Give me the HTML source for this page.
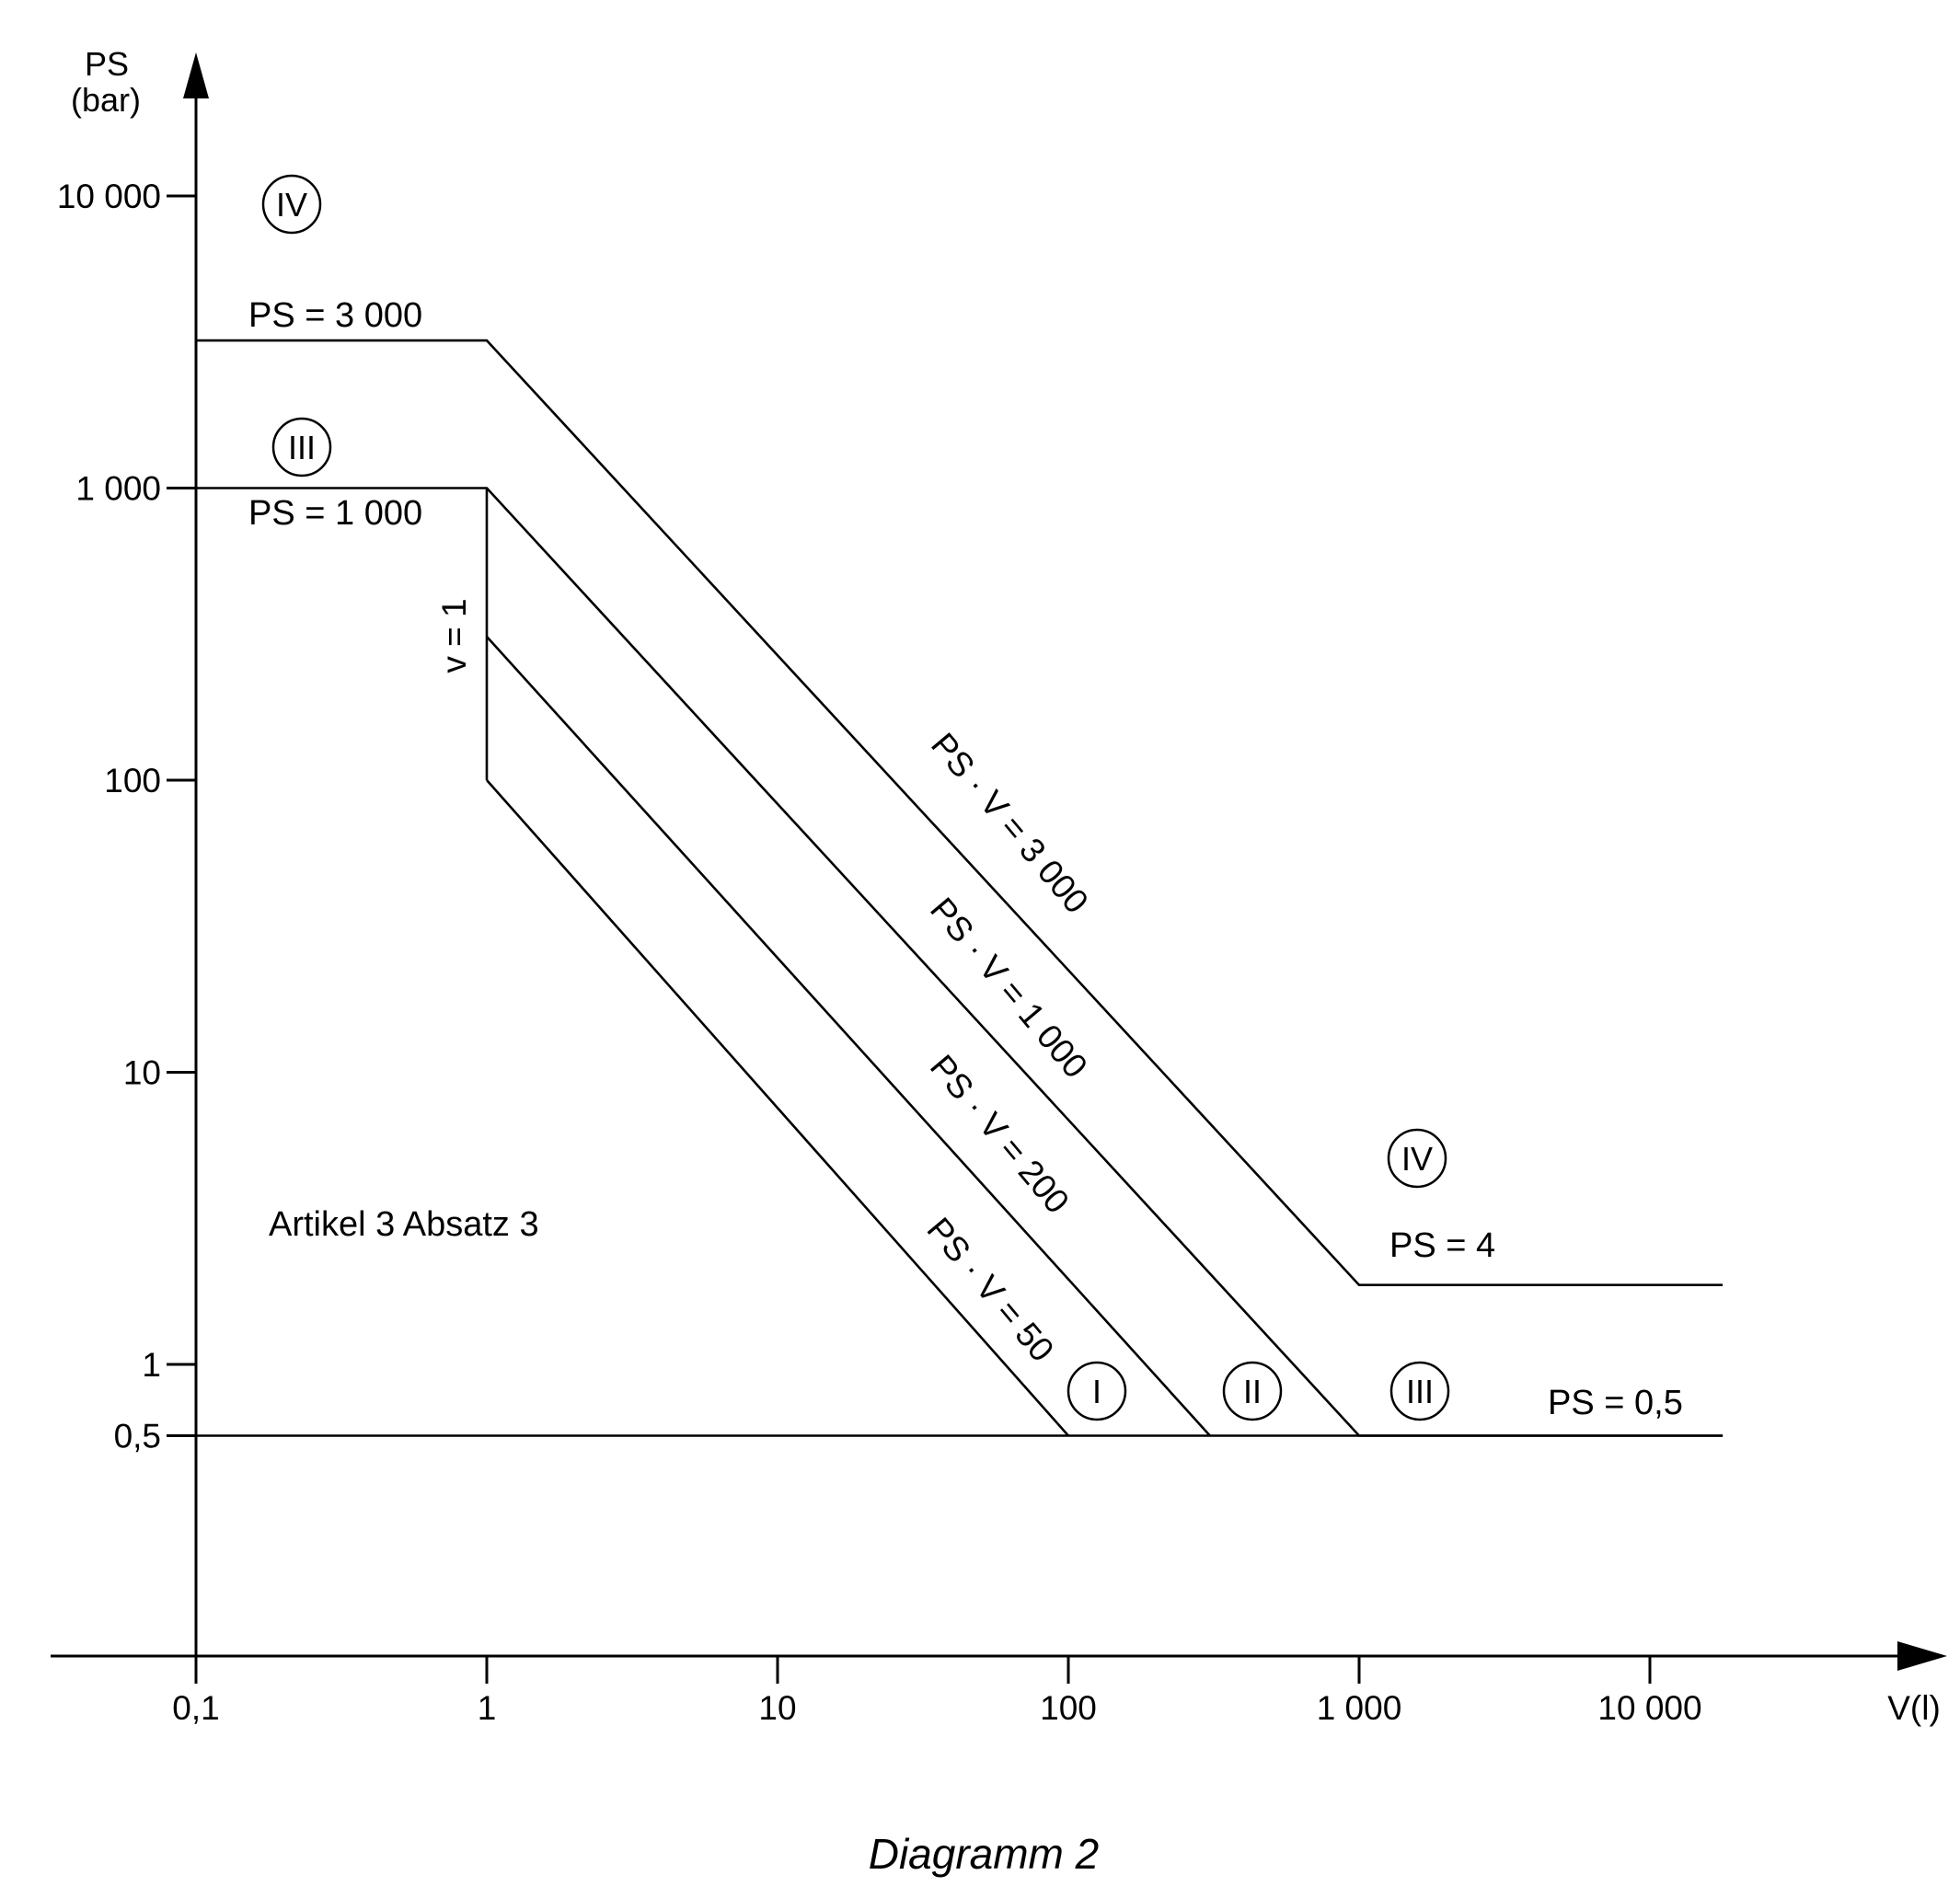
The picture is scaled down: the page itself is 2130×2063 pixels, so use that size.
<!DOCTYPE html>
<html><head><meta charset="utf-8"><style>
html,body{margin:0;padding:0;background:#fff;}
svg{display:block;}
text{font-family:"Liberation Sans",sans-serif;fill:#000;}
</style></head><body>
<svg id="chart" width="2130" height="2063" viewBox="0 0 2130 2063" xmlns="http://www.w3.org/2000/svg"></svg>
<script>
const xTicks = [0.1, 1, 10, 100, 1000, 10000];
const xTickLabels = ["0,1", "1", "10", "100", "1 000", "10 000"];
const yTicks = [10000, 1000, 100, 10, 1, 0.57];
const yTickLabels = ["10 000", "1 000", "100", "10", "1", "0,5"];
// boundary lines as [V, PS] points
const lineIV_V = [0.1, 1, 1000, 17800];
const lineIV_PS = [3200, 3200, 1.87, 1.87];
const lineIII_V = [0.1, 1, 1000, 17800];
const lineIII_PS = [1000, 1000, 0.57, 0.57];
const lineV1_V = [1, 1];
const lineV1_PS = [1000, 100];
const lineII_V = [1, 307];
const lineII_PS = [310, 0.57];
const lineI_V = [1, 100];
const lineI_PS = [100, 0.57];
const lineBase_V = [0.1, 17800];
const lineBase_PS = [0.57, 0.57];

const X0 = 213, XD = 316, Y0 = 213, YD = 317.5, XAXIS_Y = 1800;
function xs(v){ return X0 + (Math.log10(v) + 1) * XD; }
function ys(p){ return Y0 + (4 - Math.log10(p)) * YD; }

const svg = document.getElementById('chart');
const NS = 'http://www.w3.org/2000/svg';
function mk(tag, attrs, parent){
  const e = document.createElementNS(NS, tag);
  for (const k in attrs) e.setAttribute(k, attrs[k]);
  (parent || svg).appendChild(e);
  return e;
}
function txt(x, y, s, size, anchor, extra){
  const t = mk('text', Object.assign({x:x, y:y, 'font-size':size, 'text-anchor':anchor||'start'}, extra||{}));
  t.textContent = s;
  return t;
}

// axes
const xAxis = mk('line', {x1:55, y1:XAXIS_Y, x2:2070, y2:XAXIS_Y, stroke:'#000', 'stroke-width':3});


const xArrow = mk('polygon', {points:'2116,'+XAXIS_Y+' 2062,'+(XAXIS_Y-16)+' 2062,'+(XAXIS_Y+16), fill:'#000'});


const yAxis = mk('line', {x1:X0, y1:XAXIS_Y+30, x2:X0, y2:100, stroke:'#000', 'stroke-width':3});


const yArrow = mk('polygon', {points:X0+',57 '+(X0-14)+',107 '+(X0+14)+',107', fill:'#000'});



xTicks.forEach((v, i) => {
  const x = xs(v);
  const tk = mk('line', {x1:x, y1:XAXIS_Y, x2:x, y2:XAXIS_Y+30, stroke:'#000', 'stroke-width':3});
  
  
  const lb = txt(x, 1869, xTickLabels[i], 37, 'middle');
  
  
});
yTicks.forEach((v, i) => {
  const y = ys(v);
  const tk = mk('line', {x1:181, y1:y, x2:X0, y2:y, stroke:'#000', 'stroke-width':3});
  
  
  const lb = txt(175, y + 13, yTickLabels[i], 37, 'end');
  
  
});

function poly(V, P, name){
  const pts = V.map((v, i) => xs(v).toFixed(1) + ',' + ys(P[i]).toFixed(1)).join(' ');
  const p = mk('polyline', {points:pts, fill:'none', stroke:'#000', 'stroke-width':2.6, 'stroke-linejoin':'miter'});
  
  
}
poly(lineIV_V, lineIV_PS, 'boundary-ps-v-3000');
poly(lineIII_V, lineIII_PS, 'boundary-ps-v-1000');
poly(lineV1_V, lineV1_PS, 'boundary-v-1');
poly(lineII_V, lineII_PS, 'boundary-ps-v-200');
poly(lineI_V, lineI_PS, 'boundary-ps-v-50');
poly(lineBase_V, lineBase_PS, 'boundary-ps-0-5');

// axis titles
let t;
t = txt(116, 82, 'PS', 36, 'middle');  
t = txt(115, 121, '(bar)', 36, 'middle');  
t = txt(2080, 1869, 'V(l)', 37, 'middle');  

// labels
t = txt(270, 355, 'PS = 3 000', 38);  
t = txt(270, 570, 'PS = 1 000', 38);  
t = txt(1510, 1366, 'PS = 4', 38);  
t = txt(1682, 1537, 'PS = 0,5', 38);  
t = txt(292, 1343, 'Artikel 3 Absatz 3', 38);  

function rot(cx, cy, s, ang, name){
  const e = txt(cx, cy + 12, s, 37, 'middle', {transform:'rotate('+ang+' '+cx+' '+cy+')'});
  
  
}
rot(1097, 895, 'PS · V = 3 000', 50, 'label-psv-3000');
rot(1096, 1074, 'PS · V = 1 000', 50, 'label-psv-1000');
rot(1086, 1233, 'PS · V = 200', 50, 'label-psv-200');
rot(1076, 1402, 'PS · V = 50', 50, 'label-psv-50');
rot(494, 691, 'v = 1', -90, 'label-v-1');

function cat(cx, cy, s, name){
  const c = mk('circle', {cx:cx, cy:cy, r:31, fill:'none', stroke:'#000', 'stroke-width':2.5});
  
  
  const e = txt(cx, cy + 13, s, 36, 'middle');
  
  
}
cat(317, 222, 'IV', 'category-iv-top');
cat(328, 486, 'III', 'category-iii-top');
cat(1540, 1259, 'IV', 'category-iv-right');
cat(1192, 1512, 'I', 'category-i');
cat(1361, 1512, 'II', 'category-ii');
cat(1543, 1512, 'III', 'category-iii-right');

t = txt(1069, 2031, 'Diagramm 2', 46, 'middle', {'font-style':'italic', 'font-family':'Liberation Serif, serif'});
 
</script>
</body></html>
